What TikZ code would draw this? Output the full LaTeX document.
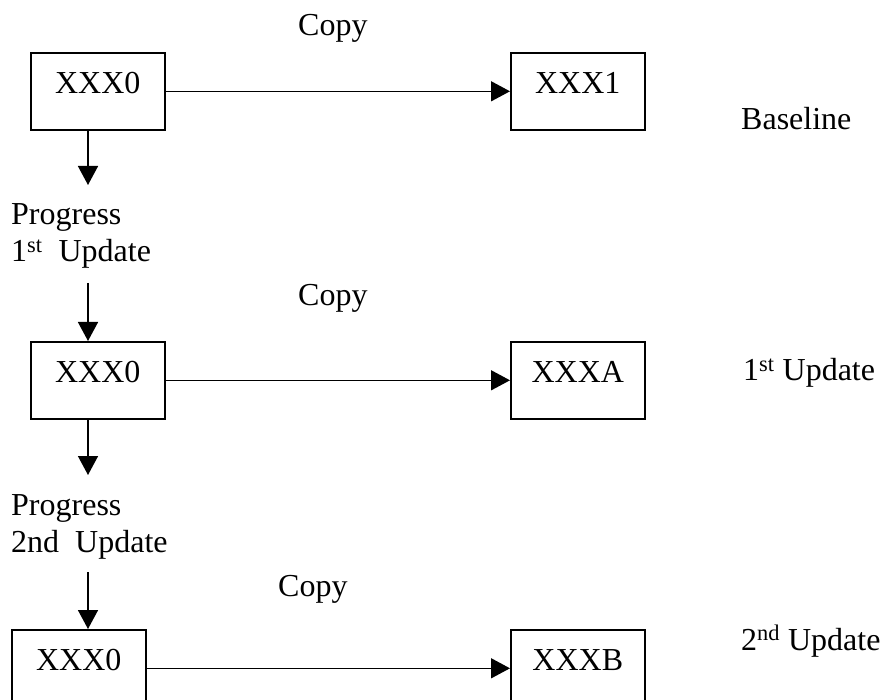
\documentclass[tikz,border=0pt]{standalone}
\usepackage{fontspec}
\setmainfont{Liberation Serif}
\usetikzlibrary{arrows.meta}
\newcommand\myfs{\fontsize{32}{37}\selectfont}
\begin{document}
\begin{tikzpicture}[x=1pt,y=-1pt,
 box/.style={draw,line width=1.6pt,minimum width=134pt,minimum height=77pt,inner sep=0pt,text height=22pt,text depth=17pt,anchor=north west,font=\myfs},
 txt/.style={inner sep=0pt,anchor=base west,font=\myfs,align=left},
 arr/.style={line width=1.5pt,-{Triangle[length=19pt,width=20pt]}}]
\useasboundingbox (0,0) rectangle (881,700);
% boxes
\node[box] (a1) at (30,52) {XXX0};
\node[box] (b1) at (510,52) {XXX1};
\node[box] (a2) at (30,341) {XXX0};
\node[box] (b2) at (510,341) {XXXA};
\node[box] (a3) at (11,629) {XXX0};
\node[box] (b3) at (510,629) {XXXB};
% labels
\node[txt] (c1) at (298,36) {Copy};
\node[txt] (c2) at (298,306) {Copy};
\node[txt] (c3) at (278,596) {Copy};
\node[txt] (r1) at (741,130) {Baseline};
\node[txt] (r2) at (743,381) {1\textsuperscript{st} Update};
\node[txt] (r3) at (741,650) {2\textsuperscript{nd} Update};
\node[txt] (p1) at (11,262) {Progress\\1\textsuperscript{st}\ \ Update};
\node[txt] (p2) at (11,552) {Progress\\2nd\ \ Update};
% connectors
\draw[arr] (a1.east) -- (b1.west);
\draw[arr] (a2.east) -- (b2.west);
\draw[arr] (a3.east) -- (b3.west);
\coordinate (t1) at (88,185);
\coordinate (s2) at (88,283);
\coordinate (t2) at (88,475);
\coordinate (s3) at (88,572);
\draw[arr] (a1.south -| t1) -- (t1);
\draw[arr] (s2) -- (s2 |- a2.north);
\draw[arr] (a2.south -| t2) -- (t2);
\draw[arr] (s3) -- (s3 |- a3.north);
\end{tikzpicture}
\end{document}
